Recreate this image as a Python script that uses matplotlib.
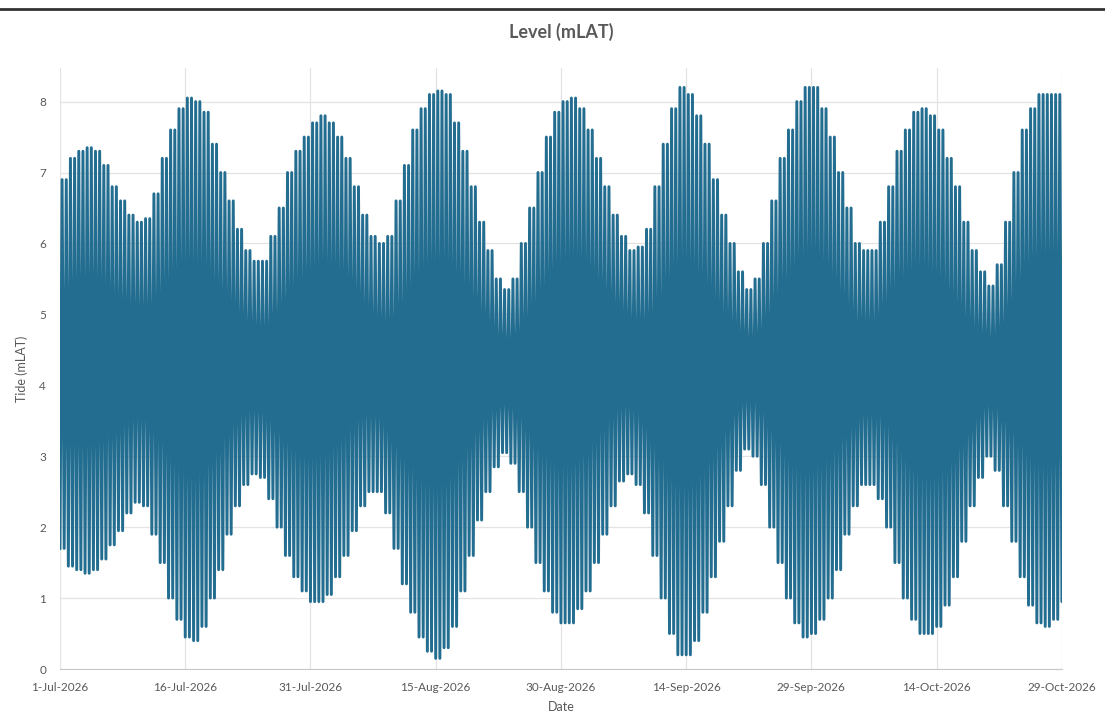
import numpy as np
import pandas as pd
import matplotlib
matplotlib.use('Agg')
import matplotlib.pyplot as plt
from matplotlib.lines import Line2D

# daily high-water and low-water envelope (mLAT), 1-Jul-2026 .. 29-Oct-2026
high_water = [
    6.9, 7.2, 7.3, 7.35, 7.3, 7.1, 6.8, 6.6, 6.4, 6.3,
    6.35, 6.7, 7.2, 7.6, 7.9, 8.05, 8.0, 7.85, 7.4, 7.0,
    6.6, 6.2, 5.9, 5.75, 5.75, 6.1, 6.5, 7.0, 7.3, 7.5,
    7.7, 7.8, 7.7, 7.5, 7.2, 6.8, 6.4, 6.1, 6.0, 6.1,
    6.6, 7.1, 7.6, 7.9, 8.1, 8.15, 8.1, 7.7, 7.3, 6.8,
    6.3, 5.9, 5.5, 5.35, 5.5, 6.0, 6.5, 7.0, 7.5, 7.85,
    8.0, 8.05, 7.9, 7.6, 7.2, 6.8, 6.4, 6.1, 5.9, 5.95,
    6.2, 6.8, 7.4, 7.9, 8.2, 8.1, 7.8, 7.4, 6.9, 6.4,
    6.0, 5.6, 5.35, 5.5, 6.0, 6.6, 7.2, 7.6, 8.0, 8.2,
    8.2, 7.9, 7.5, 7.0, 6.5, 6.0, 5.9, 5.9, 6.3, 6.8,
    7.3, 7.6, 7.85, 7.9, 7.8, 7.6, 7.2, 6.8, 6.3, 5.9,
    5.6, 5.4, 5.7, 6.3, 7.0, 7.6, 7.9, 8.1, 8.1, 8.1,
    7.6,
]
low_water = [
    1.7, 1.45, 1.4, 1.35, 1.4, 1.55, 1.75, 1.95, 2.2, 2.35,
    2.3, 1.9, 1.5, 1.0, 0.7, 0.45, 0.4, 0.6, 1.0, 1.4,
    1.9, 2.3, 2.6, 2.75, 2.7, 2.4, 2.0, 1.6, 1.3, 1.1,
    0.95, 0.95, 1.05, 1.3, 1.6, 1.95, 2.3, 2.5, 2.5, 2.2,
    1.7, 1.2, 0.8, 0.45, 0.25, 0.15, 0.3, 0.6, 1.1, 1.6,
    2.1, 2.5, 2.85, 3.05, 2.9, 2.5, 2.0, 1.5, 1.1, 0.8,
    0.65, 0.65, 0.85, 1.1, 1.5, 1.9, 2.3, 2.65, 2.75, 2.6,
    2.2, 1.6, 1.0, 0.5, 0.2, 0.2, 0.4, 0.8, 1.3, 1.8,
    2.3, 2.8, 3.1, 3.0, 2.6, 2.0, 1.5, 1.0, 0.65, 0.45,
    0.5, 0.7, 1.0, 1.4, 1.9, 2.3, 2.6, 2.6, 2.4, 2.0,
    1.5, 1.0, 0.7, 0.5, 0.5, 0.6, 0.9, 1.3, 1.8, 2.3,
    2.7, 3.0, 2.8, 2.3, 1.8, 1.3, 0.9, 0.65, 0.6, 0.7,
    0.95,
]
tick_labels = ['1-Jul-2026', '16-Jul-2026', '31-Jul-2026', '15-Aug-2026',
               '30-Aug-2026', '14-Sep-2026', '29-Sep-2026', '14-Oct-2026',
               '29-Oct-2026']

days = pd.date_range('2026-07-01', periods=len(high_water), freq='D')

# two tides a day: low, high, low, high
times = []
levels = []
for d, hw, lw in zip(days, high_water, low_water):
    for frac, val in [(0.0, lw), (0.25, hw), (0.5, lw), (0.75, hw)]:
        times.append(d + pd.Timedelta(days=frac))
        levels.append(val)

plt.rcParams['font.family'] = ['Lato', 'DejaVu Sans']

fig = plt.figure(figsize=(11.05, 7.26), dpi=100)
ax = fig.add_axes([0.0543, 0.0785, 0.9067, 0.8275])

ax.plot(times, levels, color='#236d90', linewidth=2.1)

ticks = pd.to_datetime(tick_labels, format='%d-%b-%Y')
ax.set_xticks(ticks)
ax.set_xticklabels(tick_labels)
ax.set_xlim(ticks[0], ticks[-1])
ax.set_ylim(0, 8.47)
ax.set_yticks(range(0, 9))

ax.grid(True, color='#e3e3e3', linewidth=0.9)
ax.set_axisbelow(True)
for side in ['top', 'right', 'left']:
    ax.spines[side].set_visible(False)
ax.spines['bottom'].set_color('#c8c8c8')
ax.tick_params(axis='both', length=0, labelsize=8.5, colors='#595959')
ax.tick_params(axis='x', pad=9)
ax.tick_params(axis='y', pad=10)

ax.set_title('Level (mLAT)', fontsize=13, fontweight='bold', color='#595959', pad=22)
ax.set_xlabel('Date', fontsize=9, color='#595959', labelpad=6)
ax.set_ylabel('Tide (mLAT)', fontsize=9, color='#595959', labelpad=8)

# dark border along the top of the screenshot
fig.add_artist(Line2D([0, 1], [0.988, 0.988], transform=fig.transFigure,
                      color='#333333', linewidth=2))

fig.savefig('out.png', dpi=100)
